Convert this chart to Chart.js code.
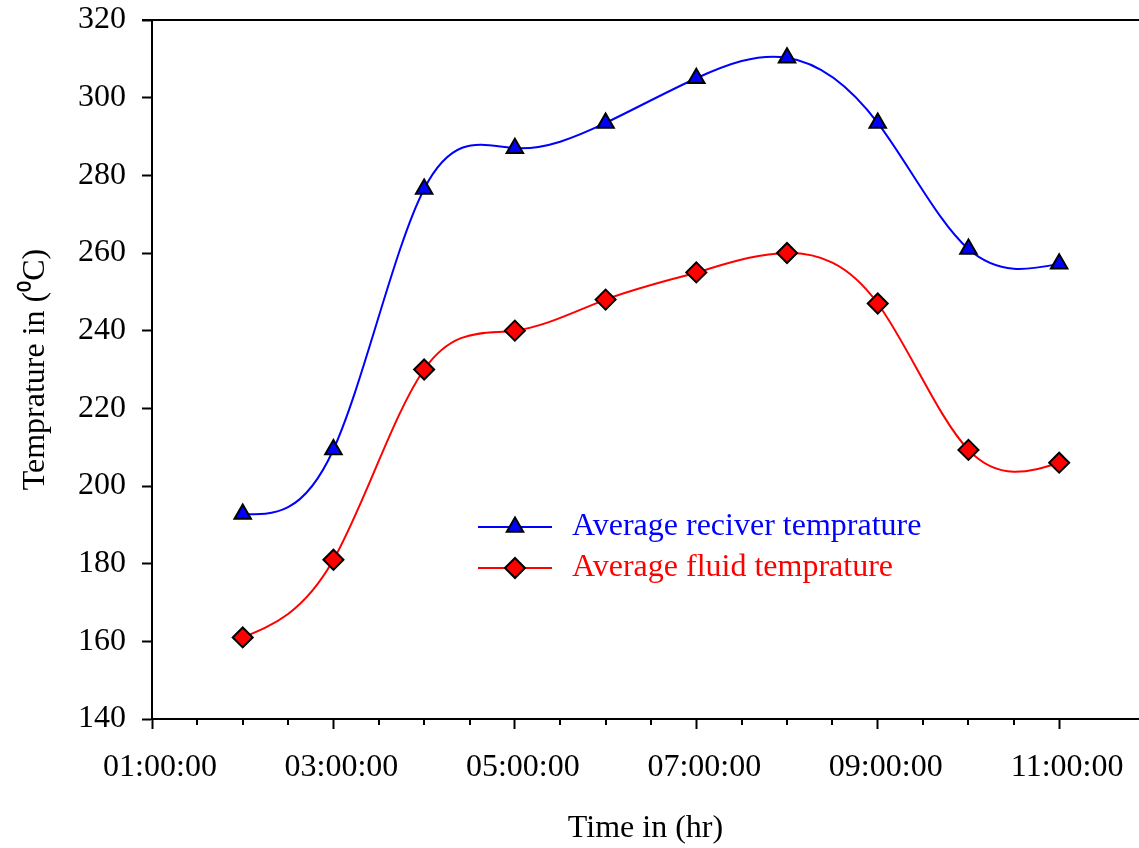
<!DOCTYPE html>
<html>
<head>
<meta charset="utf-8">
<script src="https://cdn.jsdelivr.net/npm/chart.js@4/dist/chart.umd.min.js"></script>
<style>
  body { margin: 0; background: #fff; }
  #wrap { width: 1139px; height: 848px; }
</style>
</head>
<body>
<div id="wrap"><canvas id="chart" width="1139" height="848"></canvas></div>
<script>
// hours of the day (x), temperatures in deg C (y)
const hours = [2, 3, 4, 5, 6, 7, 8, 9, 10, 11];
const receiverTemp = [192.8, 209.4, 276.5, 287, 293.5, 305, 310.3, 293.5, 261, 257.2];
const fluidTemp = [161, 181, 230, 240, 248, 255, 260, 247, 209.3, 206];
const seriesNames = ["Average reciver temprature", "Average fluid temprature"];
const xLabelHours = [1, 3, 5, 7, 9, 11];

const FONT = "'Liberation Serif', 'Times New Roman', serif";

const toPoints = (ys) => hours.map((h, i) => ({ x: h, y: ys[i] }));
const fmtTime = (h) => String(h).padStart(2, "0") + ":00:00";
const isMajor = (v) => xLabelHours.includes(v);

//natural cubic spline through the points chart.js already placed
const naturalSpline = {
  id: "naturalSpline",
  beforeDatasetDraw(chart, args) {
    const meta = args.meta;
    const line = meta.dataset;
    const pts = meta.data;
    if (!line || pts.length < 3) return;
    line.updateControlPoints(chart.chartArea, "x");
    const n = pts.length - 1;
    const x = pts.map((p) => p.x);
    const y = pts.map((p) => p.y);
    const h = [];
    for (let i = 0; i < n; i++) h.push(x[i + 1] - x[i]);
    // tridiagonal system for second derivatives, M[0] = M[n] = 0
    const a = [], b = [], c = [], r = [];
    for (let i = 1; i < n; i++) {
      a.push(h[i - 1]);
      b.push(2 * (h[i - 1] + h[i]));
      c.push(h[i]);
      r.push(6 * ((y[i + 1] - y[i]) / h[i] - (y[i] - y[i - 1]) / h[i - 1]));
    }
    const m = b.length;
    for (let i = 1; i < m; i++) {
      const w = a[i] / b[i - 1];
      b[i] -= w * c[i - 1];
      r[i] -= w * r[i - 1];
    }
    const inner = new Array(m);
    inner[m - 1] = r[m - 1] / b[m - 1];
    for (let i = m - 2; i >= 0; i--) inner[i] = (r[i] - c[i] * inner[i + 1]) / b[i];
    const M = [0, ...inner, 0];
    // slope at each node
    const d = [];
    for (let i = 0; i < n; i++) {
      d.push((y[i + 1] - y[i]) / h[i] - h[i] * (2 * M[i] + M[i + 1]) / 6);
    }
    d.push((y[n] - y[n - 1]) / h[n - 1] + h[n - 1] * (M[n - 1] + 2 * M[n]) / 6);
    pts.forEach((p, i) => {
      const hl = i > 0 ? h[i - 1] / 3 : 0;
      const hr = i < n ? h[i] / 3 : 0;
      p.cp1x = x[i] - hl;
      p.cp1y = y[i] - hl * d[i];
      p.cp2x = x[i] + hr;
      p.cp2y = y[i] + hr * d[i];
    });
    line._path = undefined;
  },
};

//draws short minor ticks, top frame line and the legend inside the plot
const extras = {
  id: "extras",
  afterDraw(chart) {
    const ctx = chart.ctx;
    const area = chart.chartArea;
    const xs = chart.scales.x;
    ctx.save();
    ctx.strokeStyle = "#000";
    ctx.lineWidth = 2;
    // minor ticks
    xs.ticks.forEach((t) => {
      if (isMajor(t.value)) return;
      const px = Math.round(xs.getPixelForValue(t.value));
      ctx.beginPath();
      ctx.moveTo(px, area.bottom);
      ctx.lineTo(px, area.bottom + 6);
      ctx.stroke();
    });
    // top frame
    ctx.beginPath();
    ctx.moveTo(area.left - 10, area.top);
    ctx.lineTo(area.right, area.top);
    ctx.stroke();

    // legend
    const rows = [527, 568];
    chart.data.datasets.forEach((ds, i) => {
      const y = rows[i];
      ctx.strokeStyle = ds.borderColor;
      ctx.lineWidth = ds.borderWidth;
      ctx.beginPath();
      ctx.moveTo(478, y);
      ctx.lineTo(552, y);
      ctx.stroke();
      ctx.fillStyle = ds.pointBackgroundColor;
      ctx.strokeStyle = ds.pointBorderColor;
      ctx.lineWidth = ds.pointBorderWidth;
      if (Chart.helpers && Chart.helpers.drawPoint) {
        Chart.helpers.drawPoint(ctx, { pointStyle: ds.pointStyle, radius: ds.pointRadius, rotation: 0, borderWidth: ds.pointBorderWidth }, 515, y);
      }
      ctx.fillStyle = ds.borderColor;
      ctx.font = "32px " + FONT;
      ctx.textBaseline = "middle";
      ctx.textAlign = "left";
      ctx.fillText(ds.label, 572, y);
    });
    ctx.restore();
  },
};

new Chart(document.getElementById("chart"), {
  type: "line",
  plugins: [naturalSpline, extras],
  data: {
    datasets: [
      {
        label: seriesNames[0],
        data: toPoints(receiverTemp),
        borderColor: "#0000ff",
        borderWidth: 2,
        tension: 0.4,
        pointStyle: "triangle",
        pointRadius: 9.5,
        pointBackgroundColor: "#0000ff",
        pointBorderColor: "#000",
        pointBorderWidth: 2,
      },
      {
        label: seriesNames[1],
        data: toPoints(fluidTemp),
        borderColor: "#ff0000",
        borderWidth: 2,
        tension: 0.4,
        pointStyle: "rectRot",
        pointRadius: 10,
        pointBackgroundColor: "#ff0000",
        pointBorderColor: "#000",
        pointBorderWidth: 2,
      },
    ],
  },
  options: {
    responsive: false,
    animation: false,
    layout: { autoPadding: false, padding: { top: 20, right: 0, left: 0, bottom: 0 } },
    plugins: {
      legend: { display: false },
      tooltip: { enabled: false },
    },
    scales: {
      x: {
        type: "linear",
        min: 1,
        max: 11.88,
        afterBuildTicks: (scale) => {
          scale.ticks = scale.ticks.filter((t) => t.value <= 11.5);
        },
        afterFit: (scale) => {
          scale.height = 129;
          scale.paddingLeft = 0;
          scale.paddingRight = 0;
        },
        border: { color: "#000", width: 2 },
        grid: {
          drawOnChartArea: false,
          tickLength: 10,
          tickWidth: 2,
          tickColor: (c) => (c.tick && isMajor(c.tick.value) ? "#000" : "rgba(0,0,0,0)"),
        },
        ticks: {
          stepSize: 0.5,
          autoSkip: false,
          maxRotation: 0,
          padding: 19,
          labelOffset: 8,
          color: "#000",
          font: { family: FONT, size: 32 },
          callback: (v) => (isMajor(v) ? fmtTime(v) : ""),
        },
        title: {
          display: true,
          text: "Time in (hr)",
          color: "#000",
          font: { family: FONT, size: 32 },
          padding: { top: 0, bottom: 0 },
        },
      },
      y: {
        min: 140,
        max: 320,
        afterFit: (scale) => {
          scale.width = 152;
          scale.paddingTop = 0;
          scale.paddingBottom = 0;
        },
        border: { color: "#000", width: 2 },
        grid: {
          drawOnChartArea: false,
          tickLength: 10,
          tickWidth: 2,
          tickColor: "#000",
        },
        ticks: {
          stepSize: 20,
          padding: 16,
          color: "#000",
          font: { family: FONT, size: 32 },
        },
        title: {
          display: true,
          text: "Temprature in (\u2070C)",
          color: "#000",
          font: { family: FONT, size: 32 },
          padding: { top: 16, bottom: 0 },
        },
      },
    },
  },
});
</script>
</body>
</html>
